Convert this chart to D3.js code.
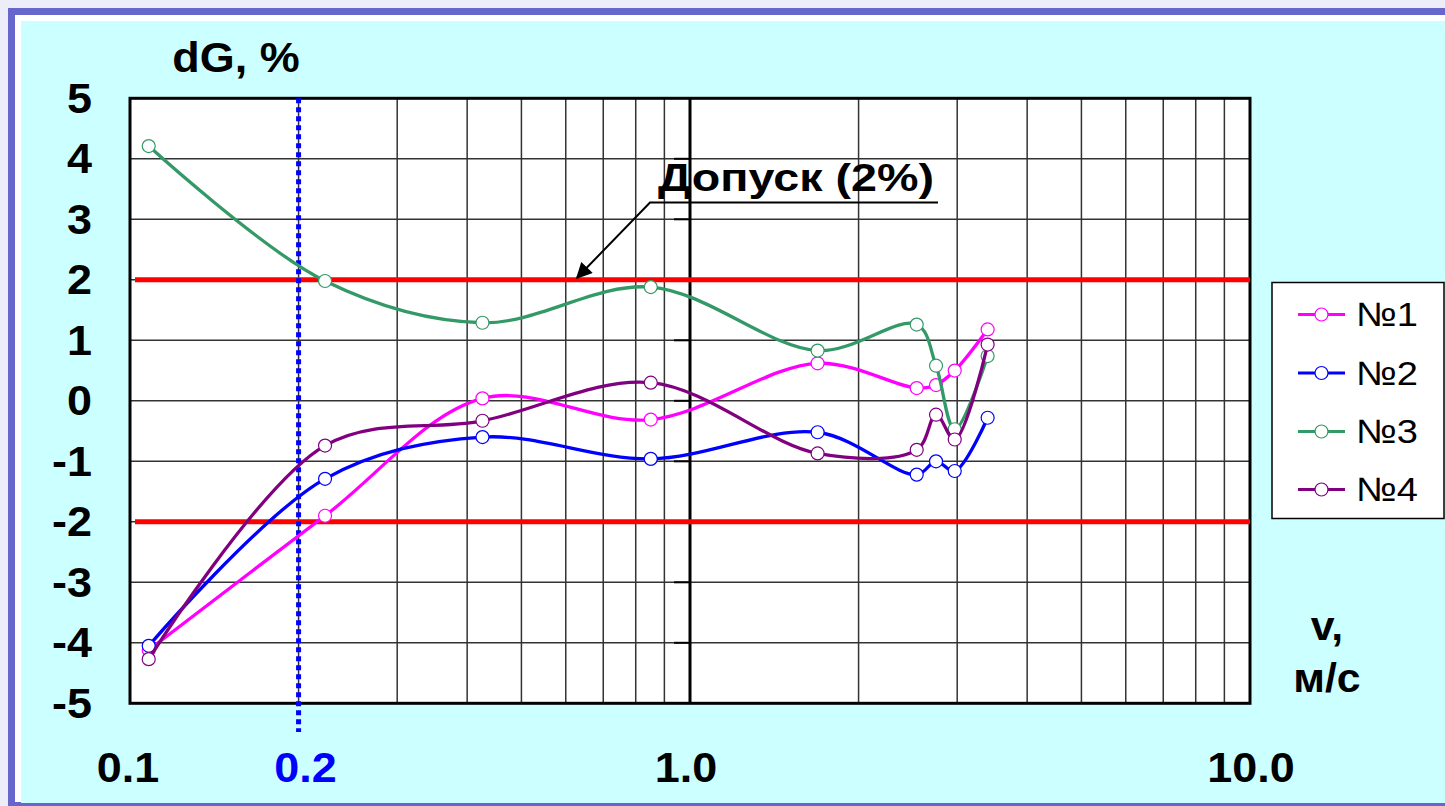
<!DOCTYPE html>
<html>
<head>
<meta charset="utf-8">
<script src="https://cdn.jsdelivr.net/npm/d3@7"></script>
<style>
  html, body { margin: 0; padding: 0; background: #ededf9; }
  svg { display: block; }
</style>
</head>
<body>
<script>
// measurement data (speed, m/s) and deviation dG (%)
const speed = [0.108, 0.223, 0.426, 0.851, 1.69, 2.54, 2.75, 2.97, 3.40];
const n1 = [-4.12, -1.90, 0.04, -0.31, 0.62, 0.21, 0.26, 0.50, 1.18];
const n2 = [-4.05, -1.29, -0.60, -0.96, -0.52, -1.22, -1.00, -1.16, -0.28];
const n3 = [4.21, 1.98, 1.29, 1.88, 0.83, 1.26, 0.58, -0.47, 0.74];
const n4 = [-4.27, -0.74, -0.33, 0.30, -0.87, -0.81, -0.23, -0.64, 0.93];
const seriesNames = ["№1", "№2", "№3", "№4"];
const seriesColors = ["#ff00ff", "#0000ff", "#339966", "#800080"];
const yTicks = [5, 4, 3, 2, 1, 0, -1, -2, -3, -4, -5];
const xTickValues = [0.1, 1, 10];
const xTickLabels = ["0.1", "1.0", "10.0"];
const limitSpeed = 0.2;
const tolerance = [2, -2];

const W = 1445, H = 806;
const plot = { left: 130, right: 1250, top: 98.3, bottom: 703.3 };
const FONT = "'Liberation Sans', Arial, sans-serif";

const svg = d3.select("body").append("svg").attr("width", W).attr("height", H);

// slide frame
svg.append("rect").attr("x", 11.5).attr("y", 11.5).attr("width", W).attr("height", H - 12)
  .attr("fill", "#ffffff").attr("stroke", "#6666cc").attr("stroke-width", 7);
svg.append("rect").attr("x", 21).attr("y", 21).attr("width", W - 21).attr("height", 782)
  .attr("fill", "#ccffff");

const x = d3.scaleLog().domain([0.1, 10]).range([plot.left, plot.right]);
const y = d3.scaleLinear().domain([-5, 5]).range([plot.bottom, plot.top]);

// text helper with slight horizontal stretch like the original slide
const label = (txt, px, py, opts = {}) => {
  const t = svg.append("text")
    .attr("transform", `translate(${px},${py}) scale(${opts.sx || 1.07},1)`)
    .attr("font-family", FONT)
    .attr("font-size", opts.size || 42)
    .attr("font-weight", opts.weight || "bold")
    .attr("text-anchor", opts.anchor || "middle")
    .attr("dominant-baseline", opts.baseline || "auto")
    .attr("fill", opts.fill || "#000")
    .text(txt);
  return t;
};

// plot area
svg.append("rect")
  .attr("x", plot.left).attr("y", plot.top)
  .attr("width", plot.right - plot.left).attr("height", plot.bottom - plot.top)
  .attr("fill", "#fff");

const grid = svg.append("g").attr("stroke", "#333").attr("stroke-width", 1.5);
grid.selectAll("line.v")
  .data(x.ticks().filter((d) => d > 0.1 && d < 10 && Math.abs(d - 1) > 1e-9))
  .enter().append("line")
  .attr("x1", (d) => x(d)).attr("x2", (d) => x(d))
  .attr("y1", plot.top).attr("y2", plot.bottom);
grid.selectAll("line.h")
  .data(yTicks.filter((d) => d > -5 && d < 5))
  .enter().append("line")
  .attr("x1", plot.left).attr("x2", plot.right)
  .attr("y1", (d) => y(d)).attr("y2", (d) => y(d));

// vertical axis crossing at 1.0 with tick marks
svg.append("line")
  .attr("x1", x(1)).attr("x2", x(1)).attr("y1", plot.top).attr("y2", plot.bottom)
  .attr("stroke", "#000").attr("stroke-width", 3);
svg.append("g").selectAll("line")
  .data(yTicks.filter((d) => d > -5 && d < 5))
  .enter().append("line")
  .attr("x1", x(1) - 16).attr("x2", x(1))
  .attr("y1", (d) => y(d)).attr("y2", (d) => y(d))
  .attr("stroke", "#000").attr("stroke-width", 2);

// plot border
svg.append("rect")
  .attr("x", plot.left).attr("y", plot.top)
  .attr("width", plot.right - plot.left).attr("height", plot.bottom - plot.top)
  .attr("fill", "none").attr("stroke", "#000").attr("stroke-width", 3);

// tolerance lines
svg.append("g").selectAll("line")
  .data(tolerance)
  .enter().append("line")
  .attr("x1", plot.left + 5).attr("x2", plot.right)
  .attr("y1", (d) => y(d)).attr("y2", (d) => y(d))
  .attr("stroke", "#ff0000").attr("stroke-width", 5);

// 0.2 m/s limit (dotted blue)
svg.append("line")
  .attr("x1", x(limitSpeed)).attr("x2", x(limitSpeed))
  .attr("y1", plot.top).attr("y2", 732)
  .attr("stroke", "#0000ff").attr("stroke-width", 5)
  .attr("stroke-dasharray", "5,4");

// series
const lineGen = d3.line()
  .x((d) => x(d[0])).y((d) => y(d[1]))
  .curve(d3.curveCatmullRom.alpha(0.5));

[n1, n2, n3, n4].forEach((vals, i) => {
  const pts = speed.map((s, k) => [s, vals[k]]);
  const g = svg.append("g");
  g.append("path").attr("d", lineGen(pts))
    .attr("fill", "none").attr("stroke", seriesColors[i]).attr("stroke-width", 3.3);
  g.selectAll("circle").data(pts).enter().append("circle")
    .attr("cx", (d) => x(d[0])).attr("cy", (d) => y(d[1])).attr("r", 6.5)
    .attr("fill", "#fff").attr("stroke", seriesColors[i]).attr("stroke-width", 1.2);
});

// annotation
svg.append("text")
  .attr("x", 658).attr("y", 191)
  .attr("font-family", FONT).attr("font-size", 38).attr("font-weight", "bold")
  .attr("textLength", 276).attr("lengthAdjust", "spacingAndGlyphs")
  .text("Допуск (2%)");
svg.append("defs").append("marker")
  .attr("id", "arrow").attr("viewBox", "0 0 10 10").attr("refX", 9).attr("refY", 5)
  .attr("markerWidth", 10).attr("markerHeight", 8).attr("markerUnits", "strokeWidth")
  .attr("orient", "auto")
  .append("path").attr("d", "M0,0 L10,5 L0,10 z").attr("fill", "#000");
svg.append("polyline")
  .attr("points", `938,202.5 650,202.5 577,${y(2) - 2}`)
  .attr("fill", "none").attr("stroke", "#000").attr("stroke-width", 2)
  .attr("marker-end", "url(#arrow)");

// y tick labels
yTicks.forEach((d) => label(String(d), 92, y(d), { anchor: "end", baseline: "central" }));
label("dG, %", 236, 72);

// x tick labels
xTickValues.forEach((d, i) => label(xTickLabels[i], x(d) + (i === 0 ? -2 : i === 1 ? -4 : 1), 782));
label(String(limitSpeed), x(limitSpeed) + 7, 782, { fill: "#0000ff" });

// x axis title
label("v,", 1327, 640, { size: 40 });
label("м/с", 1327, 692, { size: 40 });

// legend
const lg = svg.append("g");
lg.append("rect").attr("x", 1272).attr("y", 282.5).attr("width", 172).attr("height", 236)
  .attr("fill", "#fff").attr("stroke", "#000").attr("stroke-width", 1.5);
const legendY = [314.5, 373, 431.5, 489.5];
seriesNames.forEach((name, i) => {
  lg.append("line").attr("x1", 1298).attr("x2", 1345)
    .attr("y1", legendY[i]).attr("y2", legendY[i])
    .attr("stroke", seriesColors[i]).attr("stroke-width", 3);
  lg.append("circle").attr("cx", 1321.5).attr("cy", legendY[i]).attr("r", 6.5)
    .attr("fill", "#fff").attr("stroke", seriesColors[i]).attr("stroke-width", 1.2);
  lg.append("text")
    .attr("transform", `translate(1356,${legendY[i]}) scale(1.12,1)`)
    .attr("dominant-baseline", "central")
    .attr("font-family", FONT).attr("font-size", 34)
    .text(name);
});
</script>
</body>
</html>
